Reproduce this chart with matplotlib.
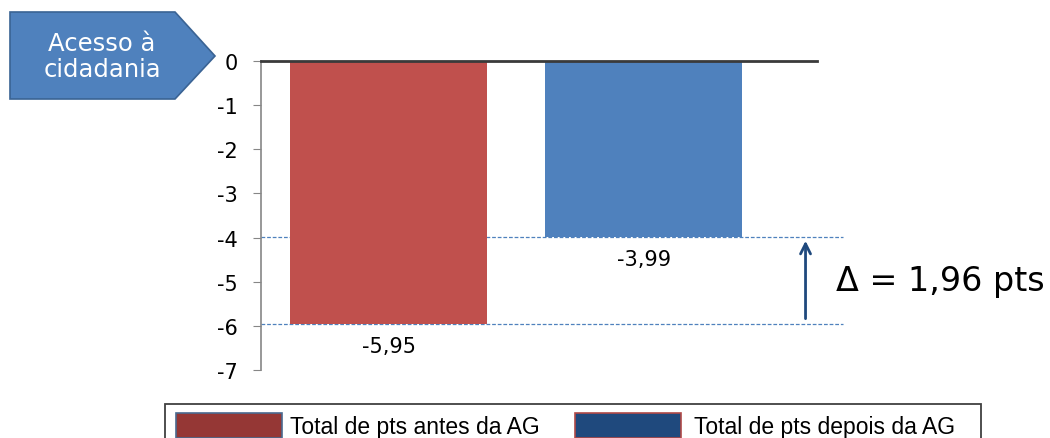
import matplotlib.pyplot as plt
from matplotlib.patches import Polygon, Rectangle

categories = ["Total de pts antes da AG", "Total de pts depois da AG"]
values = [-5.95, -3.99]
value_labels = ["-5,95", "-3,99"]
bar_colors = ["#C0504D", "#4F81BD"]
legend_colors = ["#953735", "#1F497D"]
legend_edges = ["#4A6A90", "#B04A48"]
yticks = [0, -1, -2, -3, -4, -5, -6, -7]
delta_text = "\u0394 = 1,96 pts"
tag_text = "Acesso à\ncidadania"

W, H = 1050, 439


def fx(px):
    return px / W


def fy(py):
    return 1 - py / H


fig = plt.figure(figsize=(W / 100, H / 100), dpi=100)
ax = fig.add_axes([0.2486, 0.1549, 0.5295, 0.7039])

x = list(range(len(values)))
ax.bar(x, values, width=0.773, color=bar_colors, zorder=2)
ax.set_xlim(-0.5, 1.68)
ax.set_ylim(-7, 0)

for sp in ["top", "right", "bottom"]:
    ax.spines[sp].set_visible(False)
ax.spines["left"].set_color("#868686")
ax.spines["left"].set_linewidth(1.2)
ax.axhline(0, color="#3a3a3a", lw=2, zorder=3, clip_on=False)

ax.set_xticks([])
ax.set_yticks(yticks)
ax.set_yticklabels([str(t) for t in yticks], fontsize=15, family="DejaVu Sans")
ax.tick_params(axis="y", direction="out", length=6, color="#868686", pad=11)

# value labels under bars
for xi, v, lab in zip(x, values, value_labels):
    ax.text(xi, v - 0.28, lab, ha="center", va="top", fontsize=15,
            family="DejaVu Sans")

# dashed reference lines at both bar levels
for v in values:
    ax.plot([-0.5, 1.78], [v, v], ls=(0, (3, 1.5)), color="#4F81BD",
            lw=0.9, clip_on=False, zorder=1)

# delta arrow
ax.annotate("", xy=(1.635, values[1] - 0.02), xytext=(1.635, values[0] + 0.05),
            arrowprops=dict(arrowstyle="->", color="#1F497D", lw=2,
                            mutation_scale=18),
            annotation_clip=False)
fig.text(fx(836), fy(282), delta_text, fontsize=24, va="center", ha="left",
         family="DejaVu Sans")

# pentagon tag
pts = [(10, 13), (175, 13), (215, 57), (175, 100), (10, 100)]
poly = Polygon([(fx(px), fy(py)) for px, py in pts], closed=True,
               transform=fig.transFigure, facecolor="#4F81BD",
               edgecolor="#3A6394", lw=1.2)
fig.patches.append(poly)
fig.text(fx(102), fy(57), tag_text, color="white", fontsize=17.5,
         ha="center", va="center", linespacing=1.15, family="DejaVu Sans")

# legend (drawn by hand, box runs off the bottom edge like the original)
frame = Rectangle((fx(165), fy(450)), fx(981) - fx(165), fy(405) - fy(450),
                  transform=fig.transFigure, facecolor="white",
                  edgecolor="#404040", lw=1.3)
fig.patches.append(frame)
patch_x = [176, 575]
text_x = [290, 694]
for px, tx, col, ec, lab in zip(patch_x, text_x, legend_colors, legend_edges, categories):
    sw = Rectangle((fx(px), fy(439)), fx(106), fy(414) - fy(439),
                   transform=fig.transFigure, facecolor=col, edgecolor=ec, lw=1.2)
    fig.patches.append(sw)
    fig.text(fx(tx), fy(434), lab, fontsize=16.5, ha="left", va="baseline",
             family="Liberation Sans")

fig.savefig("out.png", dpi=100)
